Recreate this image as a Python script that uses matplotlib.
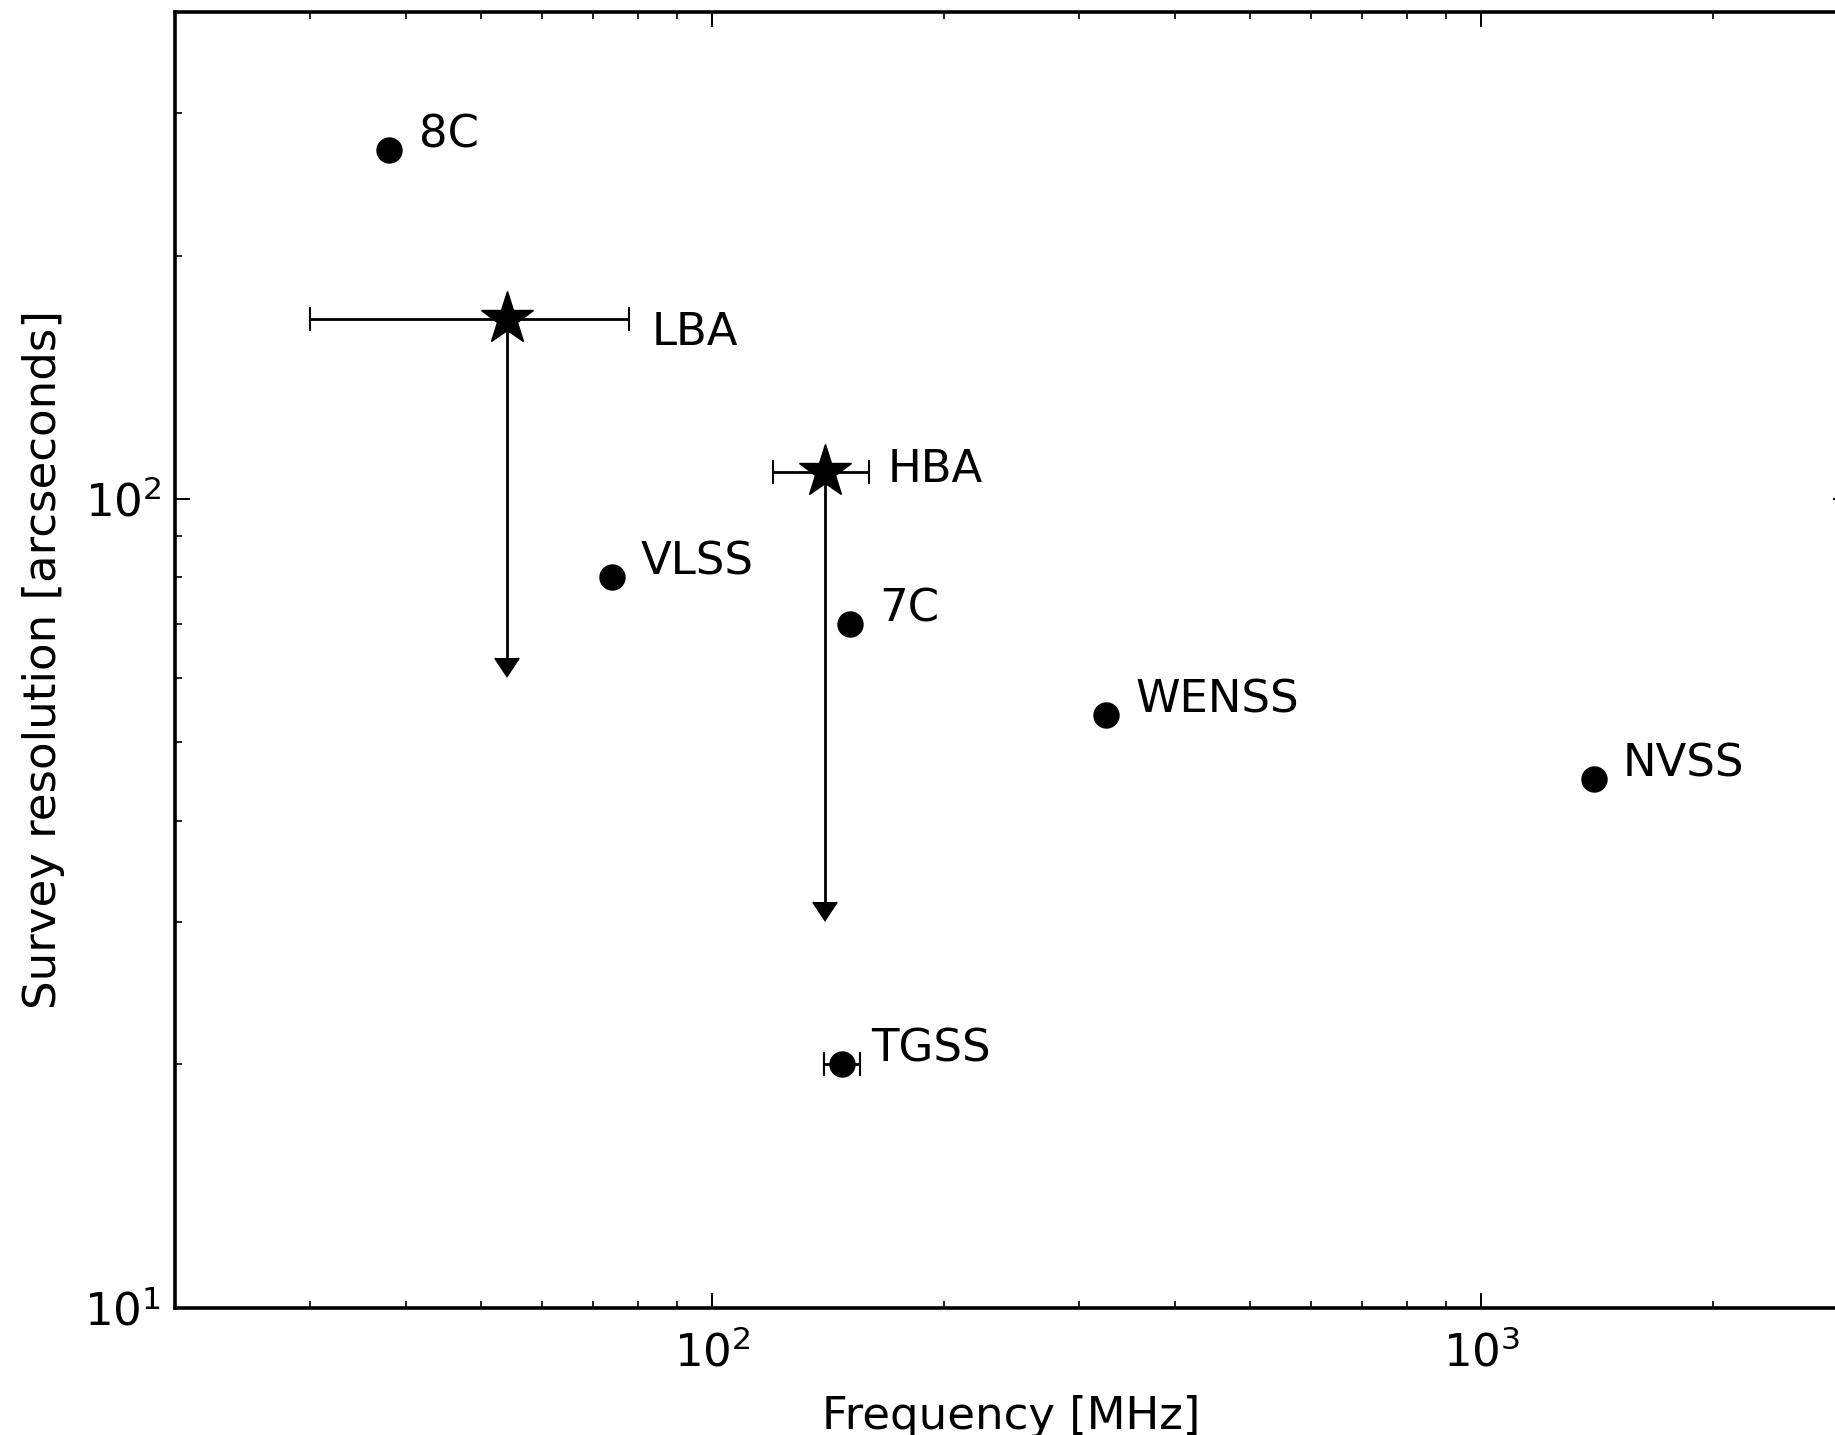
import matplotlib
matplotlib.use("Agg")
import matplotlib.pyplot as plt

# radio surveys: frequency [MHz], resolution [arcsec]
survey_names = ['8C', 'VLSS', '7C', 'WENSS', 'NVSS', 'TGSS']
survey_freq = [38, 74, 151, 325, 1400, 147.5]
survey_res = [270, 80, 70, 54, 45, 20]
survey_ferr = [0, 0, 0, 0, 0, 8]

# LOFAR bands: centre, band edges, resolution upper value and reachable limit
lofar_names = ['LBA', 'HBA']
lofar_freq = [54, 140]
lofar_flow = [30, 120]
lofar_fhigh = [78, 160]
lofar_res = [167, 108]
lofar_reslim = [63.5, 31.7]

plt.rcParams['font.size'] = 32.4
plt.rcParams['mathtext.default'] = 'regular'

fig = plt.figure(figsize=(18.35, 14.35), dpi=100)
ax = fig.add_axes([0.0954, 0.0887, 0.9117, 0.9029])

# surveys
ax.errorbar(survey_freq, survey_res, xerr=survey_ferr, fmt='o', color='k',
            ms=18, capsize=8.5, elinewidth=2, capthick=1.5)
for name, f, r in zip(survey_names, survey_freq, survey_res):
    ax.annotate(name, (f, r), xytext=(21, 11), textcoords='offset points',
                va='center', ha='left')

# LOFAR stars with band widths and resolution arrows
xerr = [[f - lo for f, lo in zip(lofar_freq, lofar_flow)],
        [hi - f for f, hi in zip(lofar_freq, lofar_fhigh)]]
yerr = [[r - l for r, l in zip(lofar_res, lofar_reslim)], [0, 0]]
ax.errorbar(lofar_freq, lofar_res, xerr=xerr, yerr=yerr, uplims=True,
            fmt='*', color='k', ms=40, capsize=8.5, elinewidth=2,
            capthick=1.5)
lab_off = [(104, -10), (45, 2)]
for name, f, r, off in zip(lofar_names, lofar_freq, lofar_res, lab_off):
    ax.annotate(name, (f, r), xytext=off, textcoords='offset points',
                va='center', ha='left')

ax.set_xscale('log')
ax.set_yscale('log')
ax.set_xlim(20, 3000)
ax.set_ylim(10, 400)
ax.set_xlabel('Frequency [MHz]', labelpad=14)
ax.set_ylabel('Survey resolution [arcseconds]', labelpad=14)

ax.tick_params(which='both', direction='in', top=True, right=True)
ax.tick_params(which='major', length=10.8, width=1.4, pad=10)
ax.tick_params(axis='x', which='major', pad=17)
ax.tick_params(which='minor', length=5, width=1.2)
for s in ax.spines.values():
    s.set_linewidth(2.6)

fig.savefig('out.png', dpi=100)
